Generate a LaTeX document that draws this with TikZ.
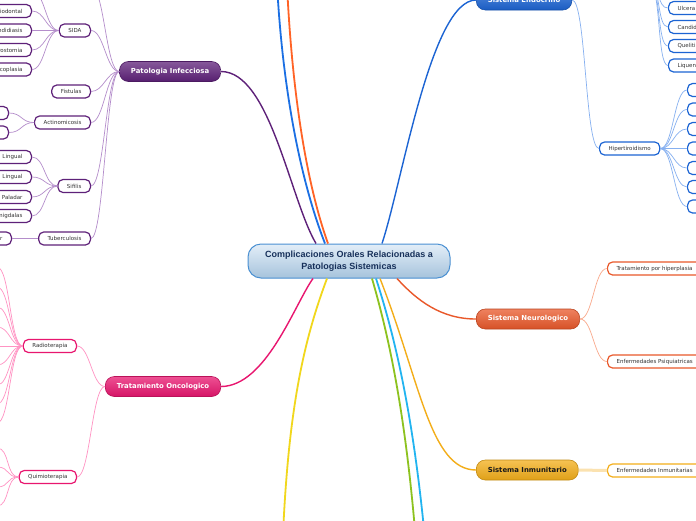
\documentclass[tikz,border=0pt]{standalone}
\usepackage{fontspec}
\setmainfont{DejaVu Sans}
\newfontfamily\raizfont{Liberation Sans}
\usepackage{tikz}
\usepackage{xcolor}

\definecolor{infec}{HTML}{5E2179}
\definecolor{infecl}{HTML}{B48DCB}
\definecolor{onco}{HTML}{E8166F}
\definecolor{oncol}{HTML}{FF93C3}
\definecolor{endo}{HTML}{1C64D3}
\definecolor{endol}{HTML}{86B0F0}
\definecolor{neuro}{HTML}{E9582A}
\definecolor{neurol}{HTML}{F9A98C}
\definecolor{inmu}{HTML}{F3AE1A}
\definecolor{inmul}{HTML}{FBE2B0}
\definecolor{raizborde}{HTML}{4A90D2}
\definecolor{raiztexto}{HTML}{17305A}
\definecolor{raizarriba}{HTML}{E3EEF8}
\definecolor{raizabajo}{HTML}{A6C3DC}
\definecolor{azul}{HTML}{1B6FE3}
\definecolor{naranja}{HTML}{FF6326}
\definecolor{amarillo}{HTML}{F1D71C}
\definecolor{verde}{HTML}{8DC21F}
\definecolor{celeste}{HTML}{22B4F0}

\begin{document}
\begin{tikzpicture}[x=1pt, y=-1pt,
		raiz/.style={draw=raizborde, line width=1pt, rounded corners=13pt, top color=raizarriba, bottom color=raizabajo, minimum width=202pt, minimum height=34pt, align=center, text=raiztexto, font=\raizfont\bfseries\fontsize{9}{11.5}\selectfont},
		tema/.style={draw=#1!80!black, line width=0.6pt, rounded corners=9pt, top color=#1!75!white, bottom color=#1!92!black, minimum height=20pt, inner xsep=11.5pt, inner ysep=0pt, text=white, font=\bfseries\fontsize{6.9}{8}\selectfont},
		sub/.style={draw=#1, fill=white, line width=1.2pt, rounded corners=5pt, minimum height=13pt, inner xsep=9pt, inner ysep=0pt, text=black!80, font=\fontsize{5.5}{6.5}\selectfont},
		rama/.style={line width=1.4pt, #1},
		hilo/.style={line width=0.7pt, #1}]
		\useasboundingbox (0,0) rectangle (696,520);
		\fill[white] (0,0) rectangle (696,520);
		\clip (0,0) rectangle (696,520);

		\node[raiz] (raiz) at (349,261) {Complicaciones Orales Relacionadas a\\Patologias Sistemicas};

		\node[tema=infec, anchor=east] (infec) at (221,71.5) {Patologia Infecciosa};
		\node[tema=onco, anchor=east] (onco) at (221,386.5) {Tratamiento Oncologico};
		\node[tema=endo, anchor=west] (endo) at (476,0) {Sistema Endocrino};
		\node[tema=neuro, anchor=west] (neuro) at (476,319) {Sistema Neurologico};
		\node[tema=inmu, anchor=west, text=black!90] (inmu) at (476,470) {Sistema Inmunitario};

		\coordinate (arriba1) at (276,-40);
		\coordinate (arriba2) at (286,-40);
		\coordinate (abajo1) at (281,600);
		\coordinate (abajo2) at (420,600);
		\coordinate (abajo3) at (430,600);

		\draw[rama=infec] ([xshift=-33pt]raiz.north) .. controls +(-26,-44) and +(49,0) .. (infec.east);
		\draw[rama=azul, line width=1.8pt] ([xshift=-24pt]raiz.north) .. controls +(-25,-64) and +(4,120) .. (arriba1);
		\draw[rama=naranja, line width=1.8pt] ([xshift=-21pt]raiz.north) .. controls +(-23,-64) and +(4,120) .. (arriba2);
		\draw[rama=endo] ([xshift=33pt]raiz.north) .. controls +(20,-60) and +(-45,0) .. (endo.west);
		\draw[rama=onco] ([xshift=-36pt]raiz.south) .. controls +(-18,25) and +(45,0) .. (onco.east);
		\draw[rama=amarillo, line width=1.8pt] ([xshift=-22pt]raiz.south) .. controls +(-27,72) and +(3,-170) .. (abajo1);
		\draw[rama=verde, line width=1.8pt] ([xshift=23pt]raiz.south) .. controls +(18,62) and +(-10,-170) .. (abajo2);
		\draw[rama=celeste, line width=1.8pt] ([xshift=27pt]raiz.south) .. controls +(20,62) and +(-12,-170) .. (abajo3);
		\draw[rama=inmu] ([xshift=31pt]raiz.south) .. controls +(40,102) and +(-46,0) .. (inmu.west);
		\draw[rama=neuro] ([xshift=48pt]raiz.south) .. controls +(20,22) and +(-35,0) .. (neuro.west);

		\node[sub=infec, anchor=east] (sida) at (91,30.5) {SIDA};
		\node[sub=infec, anchor=east] (fistulas) at (91,91.5) {Fistulas};
		\node[sub=infec, anchor=east] (actino) at (91,122.5) {Actinomicosis};
		\node[sub=infec, anchor=east] (sifilis) at (91,186) {Sifilis};
		\node[sub=infec, anchor=east] (tuber) at (91,238.5) {Tuberculosis};
		\coordinate (infecarriba) at (91,-14);
		\foreach \n in {sida, fistulas, actino, sifilis, tuber}
			\draw[hilo=infecl] (infec.west) .. controls +(-13,0) and +(13,0) .. (\n.east);
		\draw[hilo=infecl] (infec.west) .. controls +(-13,0) and +(13,0) .. (infecarriba);

		\coordinate (sidaarriba) at (32,-9);
		\draw[hilo=infecl] (sida.west) .. controls +(-13,0) and +(13,0) .. (sidaarriba);
		\foreach \y/\t [count=\i] in {11/riodontal, 30.5/ndidiasis, 50/rostomia, 69.5/coplasia} {
			\node[sub=infec, anchor=east, text width=50pt, align=right] (sida\i) at (32,\y) {\t};
			\draw[hilo=infecl] (sida.west) .. controls +(-13,0) and +(13,0) .. (sida\i.east);
		}
		\foreach \y [count=\i] in {113,132.5} {
			\node[sub=infec, anchor=east, minimum width=40pt] (actino\i) at (9,\y) {};
			\draw[hilo=infecl] (actino.west) .. controls +(-13,0) and +(13,0) .. (actino\i.east);
		}
		\foreach \y/\t [count=\i] in {157/a Lingual, 177/a Lingual, 197/s Paladar, 216/migdalas} {
			\node[sub=infec, anchor=east, text width=50pt, align=right] (sifilis\i) at (32,\y) {\t};
			\draw[hilo=infecl] (sifilis.west) .. controls +(-13,0) and +(13,0) .. (sifilis\i.east);
		}
		\node[sub=infec, anchor=east, text width=40pt, align=right] (tuber1) at (12,238.5) {r};
		\draw[hilo=infecl] (tuber.west) -- (tuber1.east);

		\node[sub=onco, anchor=east] (radio) at (77,346) {Radioterapia};
		\node[sub=onco, anchor=east] (quimio) at (77,477) {Quimioterapia};
		\foreach \n in {radio, quimio}
			\draw[hilo=oncol] (onco.west) .. controls +(-13,0) and +(13,0) .. (\n.east);
		\foreach \y [count=\i] in {267,287,307,327,346,365,385,404,423} {
			\coordinate (radio\i) at (-3,\y);
			\draw[hilo=oncol] (radio.west) .. controls +(-13,0) and +(13,0) .. (radio\i);
		}
		\foreach \y [count=\i] in {448,467,487,506} {
			\coordinate (quimio\i) at (-3,\y);
			\draw[hilo=oncol] (quimio.west) .. controls +(-13,0) and +(13,0) .. (quimio\i);
		}

		\node[sub=endo, anchor=west] (hiper) at (599,148.5) {Hipertiroidismo};
		\draw[hilo=endol] (endo.east) .. controls +(14,0) and +(-14,0) .. (hiper.west);
		\foreach \y [count=\i] in {90,109.5,129,148.5,168,187,206.5} {
			\node[sub=endo, anchor=west, minimum width=30pt] (hiper\i) at (687,\y) {};
			\draw[hilo=endol] (hiper.east) .. controls +(13,0) and +(-13,0) .. (hiper\i.west);
		}
		\coordinate (lesiones) at (650,-14);
		\foreach \y/\t [count=\i] in {8/Ulcera, 27/Candid, 46/Queliti, 65.5/Liquen} {
			\node[sub=endo, anchor=west, text width=50pt, align=left] (lesion\i) at (668,\y) {\t};
			\draw[hilo=endol] (lesiones) .. controls +(11,0) and +(-11,0) .. (lesion\i.west);
		}

		\node[sub=neuro, anchor=west] (hiperpl) at (607,268.5) {Tratamiento por hiperplasia};
		\node[sub=neuro, anchor=west] (psiq) at (607,361.5) {Enfermedades Psiquiatricas};
		\foreach \n in {hiperpl, psiq}
			\draw[hilo=neurol] (neuro.east) .. controls +(13,0) and +(-13,0) .. (\n.west);

		\node[sub=inmu, anchor=west] (inmunes) at (607,470.5) {Enfermedades Inmunitarias};
		\draw[inmul, line width=3pt] (inmu.east) -- (inmunes.west);
	\end{tikzpicture}
\end{document}
